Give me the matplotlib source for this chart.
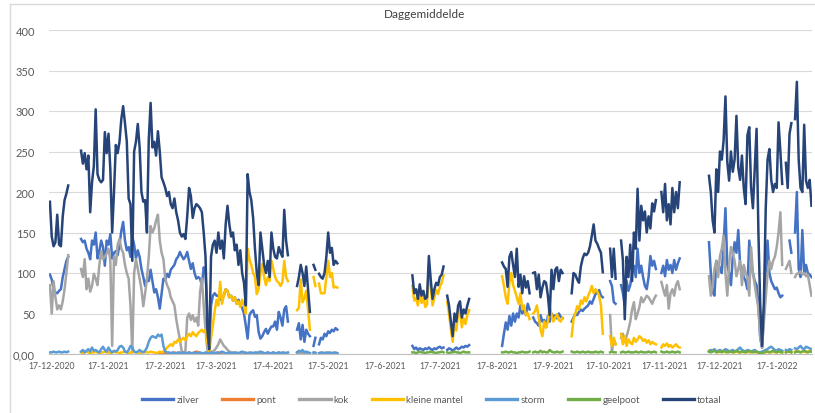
import numpy as np
import pandas as pd
import matplotlib
matplotlib.use("Agg")
import matplotlib.pyplot as plt
from matplotlib.lines import Line2D

plt.rcParams['font.family'] = ['Lato', 'DejaVu Sans']

# Daggemiddelde per soort: runs of (first day, daily values); days not listed are missing
zilver = [
    ("2020-12-16", [98, 92, 80, 76, 75, 78, 80, 95, 105, 115, 120]),
    ("2021-01-02", [142, 138, 140, 130, 125, 117, 140, 135, 150, 118,
                    127, 140, 132, 109, 140, 135, 148, 118, 125, 127,
                    122, 135, 152, 163, 140, 128, 132, 120, 145, 135,
                    118, 128, 120, 105, 95, 84, 92, 90, 104, 90,
                    76, 80, 70, 56, 75, 93, 91, 99, 95, 104,
                    107, 110, 117, 120, 126, 121, 117, 120, 126, 115,
                    105, 112, 100, 93, 95, 93, 85, 107, 100, 50,
                    3, 60, 72, 75, 72, 72, 67, 70, 72, 80,
                    78, 70, 72, 66, 70, 62, 67, 60, 57, 50,
                    35, 19, 48, 52, 54, 46, 48, 27, 19, 22,
                    27, 31, 25, 30, 34, 34, 40, 30, 52, 45,
                    35, 55, 59, 40]),
    ("2021-04-30", [30, 38, 18, 36, 15, 30, 25, 22]),
    ("2021-05-09", [10, 20]),
    ("2021-05-12", [12, 20, 18, 25, 22, 28, 26, 30, 28, 32, 30]),
    ("2021-07-02", [10, 6, 8, 5, 7, 6, 5, 7, 6, 8, 6, 5, 7, 6, 8, 9, 7, 8]),
    ("2021-07-21", [5, 7, 6, 4, 6, 8, 6, 7, 9, 8, 10, 9, 11]),
    ("2021-08-20", [10, 25, 39, 30, 47, 35, 50, 40, 50, 45, 60, 50, 55, 48, 62, 55]),
    ("2021-09-06", [45, 40, 38, 35, 48, 40, 42, 33, 47, 40, 50, 45, 48, 44, 50, 46, 44]),
    ("2021-09-27", [40, 45, 50, 48, 52, 55, 53, 56, 58, 60, 65, 62, 68, 74, 76, 79, 72, 70]),
    ("2021-10-18", [90, 84, 64, 62]),
    ("2021-10-24", [85, 75, 60, 90, 78, 85, 100, 109, 95, 130, 100, 109, 95, 84, 80,
                    95, 121, 109, 115, 105]),
    ("2021-11-15", [100, 109, 96, 116, 104, 110, 100, 116, 104, 112, 118]),
    ("2021-12-11", [138, 100, 76, 72, 115, 105, 107, 100, 136, 180, 110, 100, 85, 120,
                    138, 125, 153, 110, 105, 95, 90, 80, 140, 115, 100, 90, 85, 60, 20,
                    8, 50, 95, 140, 100, 90, 85, 80, 82, 75, 70, 72]),
    ("2022-01-24", [140, 125]),
    ("2022-01-27", [150, 200, 105, 95, 153, 100, 110, 100, 98, 95]),
]

pont = [
    ("2021-02-14", [1, 0, 1, 2, 1, 1, 0, 1, 2, 1, 1, 2, 1, 0, 1, 1, 2, 1, 1, 2,
                    3, 2, 1, 1, 0, 1, 2, 1, 1, 0, 1, 1, 2, 1, 1]),
]

kok = [
    ("2020-12-16", [85, 50, 90, 70, 55, 60, 55, 65, 80, 100, 122]),
    ("2021-01-02", [105, 95, 117, 80, 93, 77, 84, 99, 93, 85,
                    110, 127, 117, 120, 124, 130, 115, 10, 120, 110,
                    135, 142, 130, 125, 110, 100, 93, 60, 2, 100,
                    117, 105, 93, 80, 59, 75, 93, 120, 158, 150,
                    155, 165, 172, 140, 125, 117, 93, 85, 80, 70,
                    65, 60, 43, 30, 18, 3, 2, 3, 45, 50,
                    42, 48, 40, 45, 35, 76, 93, 60, 30, 5,
                    2, 3, 3, 5, 8, 12, 18, 14, 10, 8,
                    5, 3, 2, 2, 1, 2, 1, 1, 2, 1,
                    2, 1, 1, 2, 1, 1, 2, 1, 1, 2,
                    1, 1, 2, 1, 1, 2, 1, 1, 2, 1,
                    1, 2, 1, 1]),
    ("2021-04-30", [2, 1, 1, 2, 1, 1, 2, 1]),
    ("2021-05-09", [1, 2]),
    ("2021-05-12", [1, 1, 2, 1, 1, 2, 1, 1, 2, 1, 1]),
    ("2021-10-18", [48, 4, 18, 12]),
    ("2021-10-24", [20, 25, 15, 22, 30, 40, 55, 64, 43, 50, 58, 70, 64, 68, 72,
                    70, 66, 62, 68, 72]),
    ("2021-11-15", [89, 80, 72, 85, 56, 75, 80, 72, 85, 90, 80]),
    ("2021-12-11", [96, 72, 85, 105, 115, 95, 121, 130, 146, 100, 72, 110, 132, 125,
                    115, 96, 105, 115, 85, 110, 100, 95, 72, 132, 100, 85, 70, 57, 20,
                    8, 40, 70, 99, 115, 105, 115, 120, 132, 150, 175, 110]),
    ("2022-01-22", [105, 110]),
    ("2022-01-24", [115, 100]),
    ("2022-01-27", [95, 99, 100, 102, 98, 100, 96, 98, 85, 72]),
]

kleine_mantel = [
    ("2021-01-02", [2, 1, 2, 3, 2, 1, 2, 2, 3, 2,
                    1, 2, 2, 3, 2, 2, 1, 2, 3, 2,
                    2, 1, 2, 2, 3, 2, 1, 2, 2, 3,
                    2, 2, 1, 2, 3, 2, 2, 2, 3, 2,
                    2, 1, 2, 3, 2, 3, 5, 8, 10, 12,
                    10, 15, 14, 18, 15, 18, 20, 17, 22, 25,
                    22, 27, 24, 22, 26, 28, 30, 27, 30, 15,
                    2, 20, 35, 53, 67, 60, 89, 62, 72, 80,
                    78, 70, 72, 66, 70, 62, 65, 58, 67, 60,
                    50, 130, 117, 110, 100, 95, 74, 80, 100, 111,
                    95, 85, 95, 90, 115, 105, 95, 90, 88, 84,
                    89, 115, 95, 90]),
    ("2021-04-30", [54, 57, 92, 64, 69, 78, 55, 30]),
    ("2021-05-09", [95, 84]),
    ("2021-05-12", [87, 75, 75, 75, 95, 115, 95, 100, 82, 83, 82]),
    ("2021-07-02", [84, 66, 69, 60, 76, 63, 70, 58, 61, 110, 83, 60, 70, 79, 74, 83, 88, 97]),
    ("2021-07-21", [64, 50, 31, 15, 41, 29, 51, 55, 33, 44, 37, 48, 54]),
    ("2021-08-20", [96, 84, 70, 62, 88, 100, 85, 78, 70, 62, 75, 55, 60, 48, 50, 43]),
    ("2021-09-06", [50, 53, 60, 45, 30, 22, 40, 33, 40, 59, 48, 40, 45, 49, 42, 40, 45]),
    ("2021-09-27", [22, 43, 50, 59, 55, 66, 62, 70, 65, 72, 77, 84, 75, 80, 77, 72, 60, 25]),
    ("2021-10-18", [22, 10, 20, 12]),
    ("2021-10-24", [25, 12, 22, 10, 18, 14, 12, 20, 15, 18, 22, 20, 16, 18, 14,
                    17, 12, 15, 13, 12]),
    ("2021-11-15", [8, 12, 10, 13, 9, 11, 8, 10, 12, 9, 8]),
    ("2021-12-11", [4, 3, 5, 4, 3, 2, 3, 4, 3, 2, 3, 2, 3, 2, 2, 3, 2, 2, 3, 2, 2,
                    3, 2, 2, 3, 2, 2, 2, 1, 1, 2, 2, 3, 2, 2, 3, 2, 2, 3, 2, 2]),
    ("2022-01-22", [2, 3]),
    ("2022-01-24", [3, 2]),
    ("2022-01-27", [3, 4, 3, 2, 3, 3, 2, 3, 4, 3]),
]

storm = [
    ("2020-12-16", [2, 2, 3, 2, 2, 3, 2, 2, 3, 2, 3]),
    ("2021-01-02", [3, 5, 2, 4, 6, 3, 8, 4, 5, 3,
                    2, 6, 9, 5, 3, 8, 4, 2, 4, 3,
                    5, 9, 10, 8, 3, 2, 5, 10, 8, 3,
                    2, 3, 5, 3, 2, 4, 8, 15, 20, 22,
                    21, 20, 24, 22, 24, 10, 3, 2, 2, 1,
                    2, 1, 1, 2, 1, 1, 2, 1, 1, 2,
                    1, 1, 2, 1, 1, 2, 1, 1, 2, 1,
                    1, 2, 1, 1, 2, 1, 2, 3, 2, 1,
                    1, 2, 1, 1, 2, 1, 1, 2, 3, 2,
                    1, 1, 2, 1, 1, 2, 1, 2, 3, 2,
                    1, 1, 2, 1, 1, 2, 1, 1, 2, 1,
                    2, 1, 1, 2]),
    ("2021-04-30", [2, 4, 3, 5, 2, 3, 2, 1]),
    ("2021-05-09", [2, 1]),
    ("2021-05-12", [1, 2, 1, 1, 2, 1, 2, 1, 1, 2, 1]),
    ("2021-12-11", [3, 5, 4, 6, 3, 4, 5, 3, 4, 6, 5, 3, 4, 5, 3, 4, 6, 8, 5, 4, 3,
                    5, 4, 3, 4, 5, 3, 2, 2, 3, 4, 5, 6, 8, 9, 7, 5, 4, 6, 5, 4]),
    ("2022-01-22", [5, 4]),
    ("2022-01-24", [6, 5]),
    ("2022-01-27", [7, 6, 8, 10, 7, 6, 9, 8, 7, 6]),
]

geelpoot = [
    ("2021-07-02", [2, 2, 1, 2, 3, 2, 2, 1, 2, 2, 3, 2, 2, 1, 2, 2, 3, 2]),
    ("2021-07-21", [2, 1, 2, 2, 3, 2, 2, 1, 2, 3, 2, 2, 2]),
    ("2021-08-20", [2, 2, 3, 2, 2, 3, 2, 2, 1, 2, 2, 3, 2, 2, 2, 3]),
    ("2021-09-06", [2, 3, 2, 2, 4, 2, 3, 2, 2, 5, 3, 2, 2, 3, 2, 2, 3]),
    ("2021-09-27", [3, 2, 2, 3, 2, 2, 3, 2, 2, 3, 2, 2, 2, 3, 2, 2, 3, 2]),
    ("2021-10-18", [2, 3, 2, 2]),
    ("2021-10-24", [2, 3, 2, 2, 3, 2, 2, 2, 3, 2, 2, 3, 2, 2, 2, 3, 2, 2, 3, 2]),
    ("2021-11-15", [3, 2, 2, 3, 2, 2, 3, 2, 2, 3, 2]),
    ("2021-12-11", [3, 2, 3, 4, 2, 3, 3, 2, 4, 3, 2, 3, 3, 2, 3, 4, 3, 2, 3, 3, 2,
                    3, 4, 3, 2, 3, 3, 2, 1, 1, 2, 3, 3, 2, 3, 4, 3, 2, 3, 3, 2]),
    ("2022-01-22", [2, 3]),
    ("2022-01-24", [3, 2]),
    ("2022-01-27", [2, 3, 3, 2, 3, 4, 3, 2, 3, 3]),
]

totaal = [
    ("2020-12-16", [188, 145, 133, 138, 172, 135, 133, 170, 190, 198, 208]),
    ("2021-01-02", [251, 235, 248, 228, 245, 175, 212, 232, 302, 222,
                    215, 212, 215, 274, 248, 272, 228, 150, 200, 258,
                    248, 262, 290, 306, 285, 262, 192, 185, 115, 250,
                    262, 284, 255, 200, 188, 190, 150, 265, 310, 255,
                    262, 245, 275, 250, 218, 212, 205, 195, 200, 185,
                    180, 192, 175, 165, 150, 145, 148, 142, 170, 205,
                    195, 168, 180, 185, 183, 180, 175, 150, 120, 30,
                    6, 120, 135, 140, 125, 150, 130, 140, 118, 160,
                    183, 160, 145, 150, 128, 135, 110, 128, 100, 88,
                    60, 222, 200, 190, 168, 130, 100, 85, 150, 130,
                    110, 100, 115, 95, 150, 130, 120, 118, 132, 125,
                    120, 178, 140, 122]),
    ("2021-04-30", [84, 95, 110, 100, 84, 108, 80, 52]),
    ("2021-05-09", [110, 104]),
    ("2021-05-12", [99, 95, 93, 100, 120, 150, 125, 131, 110, 115, 112]),
    ("2021-07-02", [97, 75, 80, 68, 86, 72, 78, 68, 70, 121, 92, 68, 80, 88, 85, 95, 98, 108]),
    ("2021-07-21", [72, 60, 40, 22, 50, 40, 60, 65, 45, 55, 50, 60, 68]),
    ("2021-08-20", [113, 108, 105, 83, 120, 126, 110, 95, 130, 83, 98, 75, 96, 82, 90, 75]),
    ("2021-09-06", [100, 101, 80, 98, 70, 82, 90, 88, 72, 48, 104, 80, 104, 107, 90, 104, 100]),
    ("2021-09-27", [75, 100, 98, 92, 88, 108, 118, 124, 122, 125, 133, 146, 160, 140,
                    136, 130, 125, 101]),
    ("2021-10-18", [130, 95, 130, 93]),
    ("2021-10-24", [140, 115, 43, 120, 95, 135, 90, 150, 130, 204, 140, 183, 165, 176,
                    150, 170, 155, 186, 176, 190]),
    ("2021-11-15", [200, 175, 210, 165, 185, 160, 205, 175, 200, 180, 212]),
    ("2021-12-11", [220, 200, 165, 150, 228, 200, 250, 240, 264, 318, 237, 214, 250, 225,
                    240, 294, 230, 215, 245, 205, 185, 270, 280, 205, 180, 230, 278, 150,
                    60, 10, 65, 180, 240, 253, 215, 200, 210, 205, 286, 250, 210]),
    ("2022-01-22", [236, 205]),
    ("2022-01-24", [272, 285]),
    ("2022-01-27", [290, 336, 240, 205, 200, 283, 214, 205, 215, 183]),
]

names = ["zilver", "pont", "kok", "kleine mantel", "storm", "geelpoot", "totaal"]
runs = [zilver, pont, kok, kleine_mantel, storm, geelpoot, totaal]
colors = ["#4472C4", "#ED7D31", "#A5A5A5", "#FFC000", "#5B9BD5", "#70AD47", "#264478"]

yticks = [0, 50, 100, 150, 200, 250, 300, 350, 400]
ytick_labels = ["0,00", "50", "100", "150", "200", "250", "300", "350", "400"]

days = pd.date_range("2020-12-16", "2022-02-05", freq="D")


def to_daily(series_runs):
    s = pd.Series(np.nan, index=days)
    for start, vals in series_runs:
        idx = pd.date_range(start, periods=len(vals), freq="D")
        s.loc[idx] = vals
    return s


fig = plt.figure(figsize=(8.15, 4.14), dpi=100)
ax = fig.add_axes([49 / 815, 1 - 355 / 414, (811.5 - 49) / 815, (355 - 31) / 414])

handles = []
for name, r, c in zip(names, runs, colors):
    s = to_daily(r)
    ax.plot(s.index, s.values, color=c, lw=1.8, solid_joinstyle="round")
    handles.append(Line2D([0], [0], color=c, lw=2.4))

ax.set_xlim(pd.Timestamp("2020-12-15 12:00"), pd.Timestamp("2022-02-05"))
ax.set_ylim(0, 400)
ax.set_yticks(yticks)
ax.set_yticklabels(ytick_labels)

# one label per month, on the 17th
xt = [pd.Timestamp(year=2020 + (11 + i) // 12, month=(11 + i) % 12 + 1, day=17)
      for i in range(14)]
ax.set_xticks(xt)
ax.set_xticklabels([f"{d.day}-{d.month}-{d.year}" for d in xt])

ax.grid(axis="y", color="#D9D9D9", lw=0.8)
ax.set_axisbelow(True)
for side in ["top", "right", "left"]:
    ax.spines[side].set_visible(False)
ax.spines["bottom"].set_color("#BFBFBF")
ax.tick_params(axis="both", length=0, colors="#595959")
ax.tick_params(axis="y", labelsize=8, pad=10)
ax.tick_params(axis="x", labelsize=6.2, pad=5)

fig.text(425 / 815, 1 - 15 / 414, "Daggemiddelde", ha="center", va="center",
         fontsize=8.5, color="#404040")

fig.legend(handles, names, loc="center", bbox_to_anchor=(432 / 815, 1 - 401 / 414),
           ncol=7, frameon=False, fontsize=7, handlelength=3.2, handletextpad=0.3,
           columnspacing=2.4, labelcolor="#595959")

# chart area border (top and left edge visible in the scan)
fig.add_artist(Line2D([10 / 815, 1], [1 - 5 / 414, 1 - 5 / 414], color="#D9D9D9", lw=1))
fig.add_artist(Line2D([10 / 815, 10 / 815], [0, 1 - 5 / 414], color="#D9D9D9", lw=1))

fig.savefig("out.png", dpi=100)
